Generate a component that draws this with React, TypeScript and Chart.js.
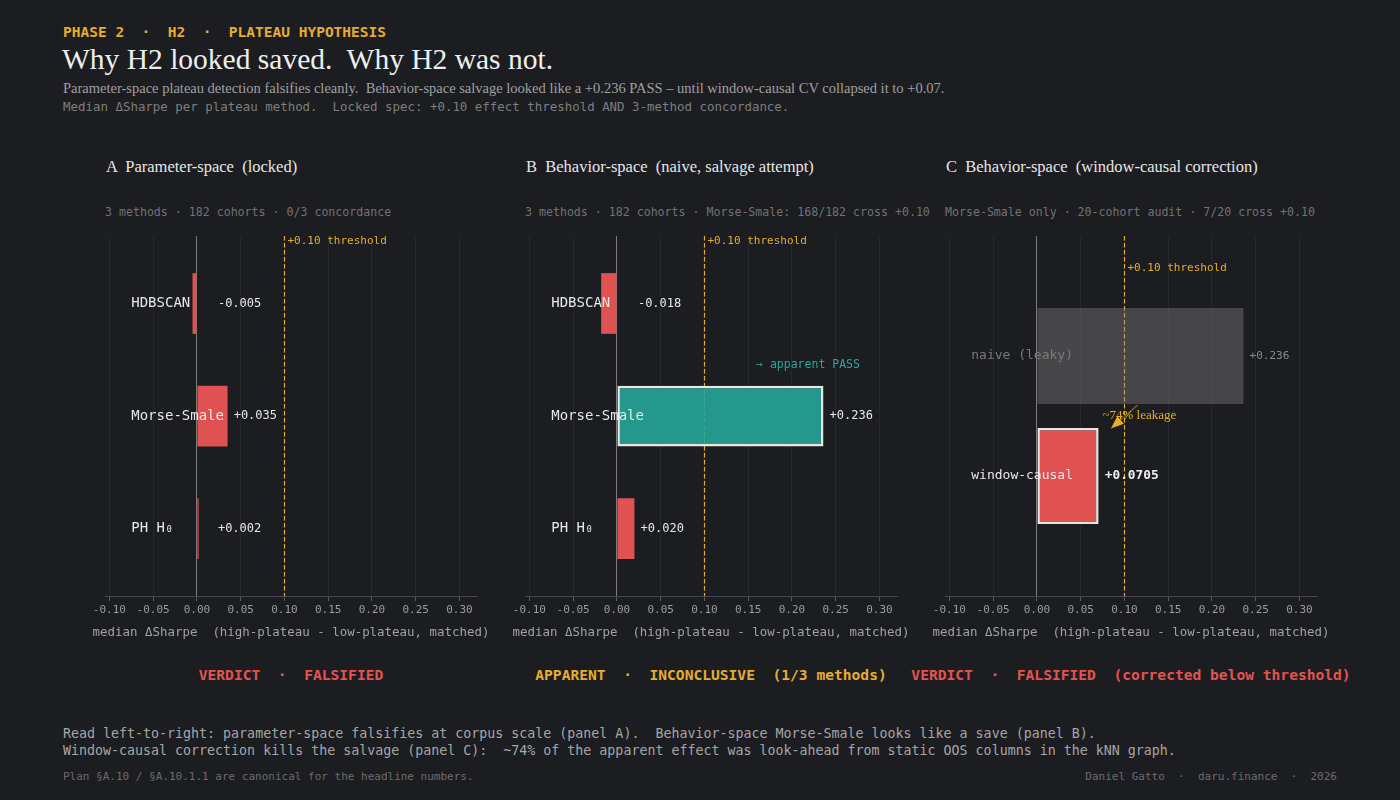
import React, { useEffect, useRef } from 'react';
import { Chart, registerables } from 'chart.js';

Chart.register(...registerables);

// ---- data -------------------------------------------------------------
// Panel A: parameter-space plateau methods (locked spec)
const paramMethods = ['HDBSCAN', 'Morse-Smale', 'PH H₀'];
const paramDelta = [-0.005, 0.035, 0.002];

// Panel B: behavior-space, naive kNN graph (salvage attempt)
const behaviorMethods = ['HDBSCAN', 'Morse-Smale', 'PH H₀'];
const behaviorDelta = [-0.018, 0.236, 0.02];

// Panel C: Morse-Smale re-run with window-causal CV
const causalRuns = ['naive (leaky)', 'window-causal'];
const causalDelta = [0.236, 0.0705];

const effectThreshold = 0.1;
const xMin = -0.105;
const xMax = 0.32;
const xStep = 0.05;
const xAxisTitle = 'median ΔSharpe  (high-plateau - low-plateau, matched)';

const panelTitles = [
  'A  Parameter-space  (locked)',
  'B  Behavior-space  (naive, salvage attempt)',
  'C  Behavior-space  (window-causal correction)',
];
const panelNotes = [
  '3 methods · 182 cohorts · 0/3 concordance',
  '3 methods · 182 cohorts · Morse-Smale: 168/182 cross +0.10',
  'Morse-Smale only · 20-cohort audit · 7/20 cross +0.10',
];
const verdicts = [
  'VERDICT  ·  FALSIFIED',
  'APPARENT  ·  INCONCLUSIVE  (1/3 methods)',
  'VERDICT  ·  FALSIFIED  (corrected below threshold)',
];

// ---- styling ----------------------------------------------------------
const BG = '#1c1d21';
const MONO = '"DejaVu Sans Mono", "Liberation Mono", monospace';
const SERIF = '"Liberation Serif", "DejaVu Serif", serif';
const GOLD = '#e6ad2e';
const RED = '#e05252';
const VERDICT_RED = '#e5534f';
const TEAL = 'rgba(38,166,152,0.9)';
const TEAL_TEXT = '#2aa898';
const EDGE = '#e9e7e1';
const GHOST = 'rgba(128,128,128,0.42)';
const LABEL = '#e8e8e8';

type Panel = {
  key: string;
  labels: string[];
  values: number[];
  fills: string[];
  strokeWidths: number[];
  labelColors: string[];
  valueColors: string[];
  valueBold: boolean[];
  labelSize: number;
  valueSizes: number[];
  yMin: number;
  yMax: number;
  barPct: number;
  thresholdLabelY: number;
  extras?: (chart: any) => void;
};

const fmtValue = (v: number) => {
  const a = Math.abs(v);
  const dec = Math.max(3, (String(a).split('.')[1] || '').length);
  return (v < 0 ? '-' : '+') + a.toFixed(dec);
};

const fmtTick = (v: number) => (Math.abs(v) < 1e-9 ? 0 : v).toFixed(2);

const panelA: Panel = {
  key: 'A',
  labels: paramMethods,
  values: paramDelta,
  fills: paramDelta.map(() => RED),
  strokeWidths: paramDelta.map(() => 0),
  labelColors: paramMethods.map(() => LABEL),
  valueColors: paramDelta.map(() => LABEL),
  valueBold: paramDelta.map(() => false),
  labelSize: 14,
  valueSizes: paramDelta.map(() => 12),
  yMin: -0.6,
  yMax: 2.6,
  barPct: 0.54,
  thresholdLabelY: -0.556,
};

const panelB: Panel = {
  key: 'B',
  labels: behaviorMethods,
  values: behaviorDelta,
  fills: behaviorDelta.map((v) => (v >= effectThreshold ? TEAL : RED)),
  strokeWidths: behaviorDelta.map((v) => (v >= effectThreshold ? 2.5 : 0)),
  labelColors: behaviorMethods.map(() => LABEL),
  valueColors: behaviorDelta.map(() => LABEL),
  valueBold: behaviorDelta.map(() => false),
  labelSize: 14,
  valueSizes: behaviorDelta.map(() => 12),
  yMin: -0.6,
  yMax: 2.6,
  barPct: 0.54,
  thresholdLabelY: -0.556,
  extras: (chart) => {
    const { ctx, scales } = chart;
    const i = behaviorDelta.findIndex((v) => v >= effectThreshold);
    ctx.font = `11.5px ${MONO}`;
    ctx.fillStyle = TEAL_TEXT;
    ctx.textAlign = 'left';
    ctx.textBaseline = 'middle';
    ctx.fillText('→ apparent PASS', scales.x.getPixelForValue(0.159), scales.y.getPixelForValue(i - 0.45));
  },
};

const panelC: Panel = {
  key: 'C',
  labels: causalRuns,
  values: causalDelta,
  fills: [GHOST, RED],
  strokeWidths: [0, 2.5],
  labelColors: ['#7a7a7a', LABEL],
  valueColors: ['#8a8a8a', '#f0f0f0'],
  valueBold: [false, true],
  labelSize: 13,
  valueSizes: [11, 12.8],
  yMin: -1,
  yMax: 2,
  barPct: 0.8,
  thresholdLabelY: -0.733,
  extras: (chart) => {
    const { ctx, scales } = chart;
    const x = scales.x;
    const y = scales.y;
    // leakage arrow from the naive bar down to the corrected bar
    const x0 = x.getPixelForValue(0.115);
    const y0 = y.getPixelForValue(0.41);
    const x1 = x.getPixelForValue(0.0845);
    const y1 = y.getPixelForValue(0.605);
    const ang = Math.atan2(y1 - y0, x1 - x0);
    const c = Math.cos(ang);
    const s = Math.sin(ang);
    ctx.save();
    ctx.strokeStyle = 'rgba(120,92,30,0.95)';
    ctx.lineWidth = 1.6;
    ctx.beginPath();
    ctx.moveTo(x0, y0);
    ctx.lineTo(x1 - c * 10, y1 - s * 10);
    ctx.stroke();
    ctx.fillStyle = GOLD;
    ctx.beginPath();
    ctx.moveTo(x1, y1);
    ctx.lineTo(x1 - c * 13 + s * 5, y1 - s * 13 - c * 5);
    ctx.lineTo(x1 - c * 13 - s * 5, y1 - s * 13 + c * 5);
    ctx.closePath();
    ctx.fill();
    ctx.font = `13px ${SERIF}`;
    ctx.fillStyle = GOLD;
    ctx.textAlign = 'center';
    ctx.textBaseline = 'middle';
    ctx.fillText('~74% leakage', x.getPixelForValue(0.117), y.getPixelForValue(0.5));
    ctx.restore();
  },
};

const panels = [panelA, panelB, panelC];

// ---- chart ------------------------------------------------------------
function overlayPlugin(p: Panel) {
  return {
    id: 'overlay' + p.key,
    beforeDatasetsDraw(chart: any) {
      const { ctx, chartArea, scales } = chart;
      const px = Math.round(scales.x.getPixelForValue(effectThreshold)) + 0.5;
      ctx.save();
      ctx.strokeStyle = GOLD;
      ctx.lineWidth = 1.2;
      ctx.setLineDash([4.5, 2.5]);
      ctx.beginPath();
      ctx.moveTo(px, chartArea.top);
      ctx.lineTo(px, chartArea.bottom);
      ctx.stroke();
      ctx.restore();
    },
    afterDatasetsDraw(chart: any) {
      const { ctx, scales } = chart;
      const x = scales.x;
      const y = scales.y;
      ctx.save();
      ctx.textBaseline = 'middle';
      ctx.textAlign = 'left';

      ctx.font = `11px ${MONO}`;
      ctx.fillStyle = GOLD;
      ctx.fillText('+0.10 threshold', x.getPixelForValue(effectThreshold) + 3, y.getPixelForValue(p.thresholdLabelY));

      p.labels.forEach((label, i) => {
        ctx.font = `${p.labelSize}px ${MONO}`;
        ctx.fillStyle = p.labelColors[i];
        ctx.fillText(label, x.getPixelForValue(-0.075), y.getPixelForValue(i));
      });

      p.values.forEach((v, i) => {
        ctx.font = `${p.valueBold[i] ? 'bold ' : ''}${p.valueSizes[i]}px ${MONO}`;
        ctx.fillStyle = p.valueColors[i];
        ctx.fillText(fmtValue(v), x.getPixelForValue(Math.max(v, 0.017) + 0.007), y.getPixelForValue(i));
      });

      if (p.extras) p.extras(chart);
      ctx.restore();
    },
    afterDraw(chart: any) {
      // x-axis title, drawn without the scale's width clamp
      const { ctx, chartArea } = chart;
      ctx.save();
      ctx.font = `12.45px ${MONO}`;
      ctx.fillStyle = '#a2a2a2';
      ctx.textAlign = 'center';
      ctx.textBaseline = 'middle';
      ctx.fillText(xAxisTitle, (chartArea.left + chartArea.right) / 2, chartArea.bottom + 37);
      ctx.restore();
    },
  };
}

function buildConfig(p: Panel): any {
  return {
    type: 'bar',
    data: {
      datasets: [
        {
          data: p.values.map((v, i) => ({ x: v, y: i })),
          backgroundColor: p.fills,
          borderColor: EDGE,
          borderWidth: p.strokeWidths,
          borderSkipped: false,
          barPercentage: p.barPct,
          categoryPercentage: 1,
        },
      ],
    },
    options: {
      indexAxis: 'y',
      responsive: false,
      animation: false,
      events: [],
      layout: { padding: { left: 20, right: 20, top: 10, bottom: 0 } },
      plugins: { legend: { display: false }, tooltip: { enabled: false } },
      scales: {
        x: {
          type: 'linear',
          min: xMin,
          max: xMax,
          offset: false,
          ticks: {
            stepSize: xStep,
            includeBounds: false,
            autoSkip: false,
            maxRotation: 0,
            color: '#9c9c9c',
            padding: 3,
            font: { family: MONO, size: 11 },
            callback: (v: any) => fmtTick(Number(v)),
          },
          grid: {
            color: (c: any) => (c.tick && Math.abs(c.tick.value) < 1e-9 ? '#7c7c7c' : '#26272c'),
            tickColor: '#5c5e64',
            tickLength: 5,
            lineWidth: 1,
          },
          border: { display: true, color: '#45474e', width: 1 },
          title: { display: false },
          afterFit: (s: any) => {
            s.height = 49;
          },
        },
        y: {
          type: 'linear',
          min: p.yMin,
          max: p.yMax,
          offset: false,
          grace: 0,
          reverse: true,
          display: false,
          grid: { offset: false },
          afterBuildTicks: (s: any) => {
            s.ticks = p.values.map((_, i) => ({ value: i }));
          },
        },
      },
    },
    plugins: [overlayPlugin(p)],
  };
}

function PanelChart({ panel, left }: { panel: Panel; left: number }) {
  const ref = useRef<HTMLCanvasElement>(null);
  useEffect(() => {
    const chart = new Chart(ref.current as HTMLCanvasElement, buildConfig(panel));
    return () => chart.destroy();
  }, [panel]);
  return (
    <canvas
      ref={ref}
      width={412}
      height={419}
      style={{ position: 'absolute', left, top: 226, width: 412, height: 419 }}
    />
  );
}

type TxtProps = {
  x: number;
  y: number;
  align?: 'left' | 'center' | 'right';
  font: string;
  size: number;
  color: string;
  weight?: number | string;
  children: React.ReactNode;
};

function Txt({ x, y, align = 'left', font, size, color, weight, children }: TxtProps) {
  const tx = align === 'center' ? '-50%' : align === 'right' ? '-100%' : '0';
  return (
    <div
      style={{
        position: 'absolute',
        left: x,
        top: y,
        transform: `translate(${tx}, -50%)`,
        whiteSpace: 'pre',
        lineHeight: 1,
        fontFamily: font,
        fontSize: size,
        color,
        fontWeight: weight,
      }}
    >
      {children}
    </div>
  );
}

export default function App() {
  return (
    <div
      style={{
        position: 'fixed',
        left: 0,
        top: 0,
        width: 1400,
        height: 800,
        background: BG,
        overflow: 'hidden',
      }}
    >
      <Txt x={63} y={32} font={MONO} size={14.5} color={GOLD} weight="bold">
        PHASE 2  ·  H2  ·  PLATEAU HYPOTHESIS
      </Txt>
      <Txt x={62} y={60} font={SERIF} size={29.5} color="#eeeeee">
        Why H2 looked saved.  Why H2 was not.
      </Txt>
      <Txt x={63} y={88} font={SERIF} size={14.5} color="#a0a0a0">
        Parameter-space plateau detection falsifies cleanly.  Behavior-space salvage looked like a +0.236 PASS – until window-causal CV collapsed it to +0.07.
      </Txt>
      <Txt x={63} y={107} font={MONO} size={12.45} color="#7e7e7e">
        Median ΔSharpe per plateau method.  Locked spec: +0.10 effect threshold AND 3-method concordance.
      </Txt>

      {panels.map((p, i) => (
        <React.Fragment key={p.key}>
          <Txt x={106 + 420 * i} y={167} font={SERIF} size={16.5} color="#e6e6e6">
            {panelTitles[i]}
          </Txt>
          <Txt x={105 + 420 * i} y={213} font={MONO} size={11.6} color="#727272">
            {panelNotes[i]}
          </Txt>
          <PanelChart panel={p} left={85 + 420 * i} />
          <Txt
            x={291 + 420 * i}
            y={675}
            align="center"
            font={MONO}
            size={14.6}
            color={i === 1 ? GOLD : VERDICT_RED}
            weight="bold"
          >
            {verdicts[i]}
          </Txt>
        </React.Fragment>
      ))}

      <Txt x={63} y={734} font={MONO} size={13.3} color="#a6a6a6">
        Read left-to-right: parameter-space falsifies at corpus scale (panel A).  Behavior-space Morse-Smale looks like a save (panel B).
      </Txt>
      <Txt x={63} y={751} font={MONO} size={13.3} color="#a6a6a6">
        Window-causal correction kills the salvage (panel C):  ~74% of the apparent effect was look-ahead from static OOS columns in the kNN graph.
      </Txt>
      <Txt x={63} y={776} font={MONO} size={11} color="#6c6c6c">
        Plan §A.10 / §A.10.1.1 are canonical for the headline numbers.
      </Txt>
      <Txt x={1337} y={776} align="right" font={MONO} size={11} color="#6c6c6c">
        Daniel Gatto  ·  daru.finance  ·  2026
      </Txt>
    </div>
  );
}
